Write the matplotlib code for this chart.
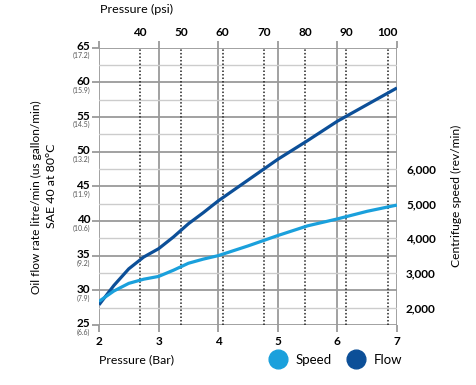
import numpy as np
import matplotlib.pyplot as plt
from matplotlib.lines import Line2D

plt.rcParams['font.family'] = ['Lato', 'DejaVu Sans']

# pressure in bar
pressure = [2, 2.25, 2.5, 2.75, 3, 3.25, 3.5, 3.75, 4, 4.5, 5, 5.5, 6, 6.5, 7]
# oil flow, litre/min
flow = [27.9, 30.7, 33.1, 34.8, 36.0, 37.7, 39.6, 41.2, 42.9, 45.9, 48.9, 51.6, 54.4, 56.8, 59.2]
# centrifuge speed, rev/min
speed = [2180, 2480, 2700, 2820, 2900, 3080, 3280, 3400, 3500, 3780, 4080, 4360, 4560, 4780, 4960]

flow_ticks = [25, 30, 35, 40, 45, 50, 55, 60, 65]
gallon_labels = ['(6.6)', '(7.9)', '(9.2)', '(10.6)', '(11.9)', '(13.2)', '(14.5)', '(15.9)', '(17.2)']
bar_ticks = [2, 3, 4, 5, 6, 7]
psi_ticks = [40, 50, 60, 70, 80, 90, 100]
speed_ticks = [2000, 3000, 4000, 5000, 6000]

c_speed = '#1aa0dc'
c_flow = '#0c4f98'
c_grid = '#9a9a9a'


def bar2psi(b):
    return b * 14.45 + 1.14


def psi2bar(p):
    return (p - 1.14) / 14.45


fig = plt.figure(figsize=(4.76, 3.85), dpi=100)
renderer = fig.canvas.get_renderer()


def fit_length(t, px):
    # scale a text so its long side is px pixels
    bb = t.get_window_extent(renderer)
    t.set_fontsize(t.get_fontsize() * px / max(bb.width, bb.height))


ax = fig.add_axes([0.208, 0.156, 0.626, 0.72])
ax.set_xlim(2, 7)
ax.set_ylim(25, 65)

ax.set_xticks(bar_ticks)
ax.set_xticklabels([str(b) for b in bar_ticks], fontweight='bold', fontsize=8.5)
ax.set_yticks(flow_ticks)
ax.set_yticks(np.arange(27.5, 65, 5), minor=True)
ax.set_yticklabels([])
ax.grid(which='major', color=c_grid, lw=1.3)
ax.grid(which='minor', axis='y', color='#cccccc', lw=1.0)
for s in ax.spines.values():
    s.set_visible(False)
ax.tick_params(axis='x', length=5, color=c_grid, width=1.3, top=True, pad=3)
ax.tick_params(axis='y', which='major', length=5, color=c_grid, width=1.3)
ax.tick_params(axis='y', which='minor', length=0)

for v, g in zip(flow_ticks, gallon_labels):
    ax.text(-0.03, v + 0.15, str(v), transform=ax.get_yaxis_transform(),
            ha='right', va='center', fontsize=8.5, fontweight='bold')
    ax.text(-0.03, v - 0.6, g, transform=ax.get_yaxis_transform(),
            ha='right', va='top', fontsize=5, color='#555555')

# psi reference lines
for p in psi_ticks:
    ax.axvline(psi2bar(p), color='#222222', lw=1.1, ls=(0, (1, 1.3)), zorder=2)

top = ax.secondary_xaxis('top', functions=(bar2psi, psi2bar))
top.set_xticks(psi_ticks)
top.set_xticklabels([str(p) for p in psi_ticks], fontweight='bold', fontsize=8.5)
top.tick_params(length=0, pad=7)
for s in top.spines.values():
    s.set_visible(False)

ax.plot(pressure, flow, color=c_flow, lw=2.3, zorder=4, solid_capstyle='butt')

ax2 = ax.twinx()
ax2.set_ylim(1500, 9500)
ax2.set_yticks(speed_ticks)
ax2.set_yticklabels([f'{s:,}' for s in speed_ticks], fontweight='bold', fontsize=8.5)
ax2.tick_params(length=0, pad=6.5)
for s in ax2.spines.values():
    s.set_visible(False)
ax2.plot(pressure, speed, color=c_speed, lw=2.3, zorder=4, solid_capstyle='butt')

t = fig.text(0.210, 0.975, 'Pressure (psi)', ha='left', va='center', fontsize=9)
fit_length(t, 73)
t = fig.text(0.208, 0.065, 'Pressure (Bar)', ha='left', va='center', fontsize=9)
fit_length(t, 75)
t = fig.text(0.076, 0.488, 'Oil flow rate litre/min (us gallon/min)',
             rotation=90, ha='center', va='center', fontsize=9)
fit_length(t, 194)
t = fig.text(0.108, 0.518, 'SAE 40 at 80\u00b0C', rotation=90, ha='center',
             va='center', fontsize=9)
fit_length(t, 85)
t = fig.text(0.958, 0.49, 'Centrifuge speed (rev/min)', rotation=90, ha='center',
             va='center', fontsize=9)
fit_length(t, 143)

handles = [Line2D([], [], ls='', marker='o', markersize=13.5, color=c_speed),
           Line2D([], [], ls='', marker='o', markersize=13.5, color=c_flow)]
fig.legend(handles, ['Speed', 'Flow'], loc='center', bbox_to_anchor=(0.706, 0.066),
           ncol=2, frameon=False, fontsize=9.5, handletextpad=0.73, columnspacing=1.26,
           handlelength=1.2, borderpad=0, borderaxespad=0)

fig.savefig('out.png', dpi=100)
